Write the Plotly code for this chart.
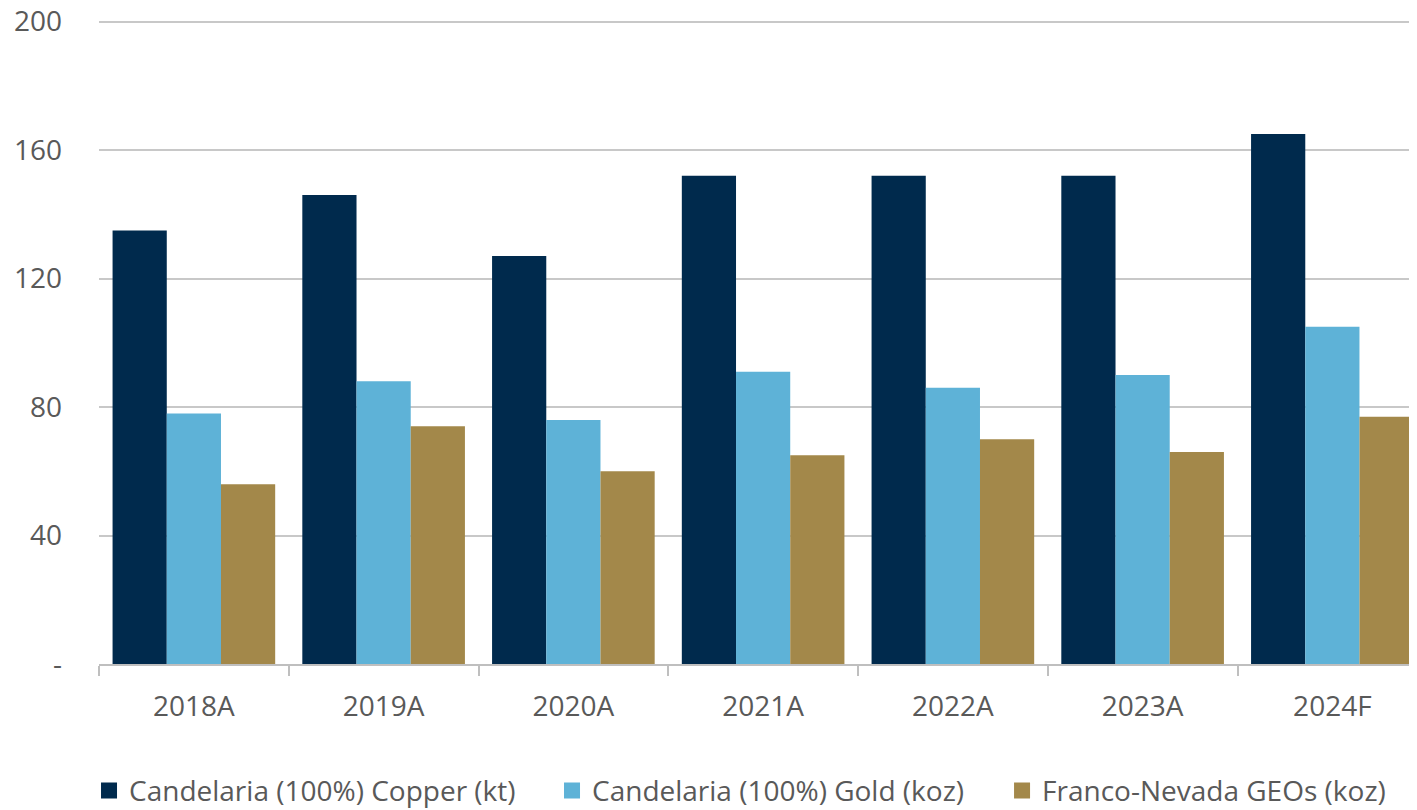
import plotly.graph_objects as go

categories = ["2018A", "2019A", "2020A", "2021A", "2022A", "2023A", "2024F"]
copper_kt = [135, 146, 127, 152, 152, 152, 165]
gold_koz = [78, 88, 76, 91, 86, 90, 105]
geos_koz = [56, 74, 60, 65, 70, 66, 77]

series_names = [
    "Candelaria (100%) Copper (kt)",
    "Candelaria (100%) Gold (koz)",
    "Franco-Nevada GEOs (koz)",
]
series_colors = ["#002A4D", "#5EB2D7", "#A3884A"]
y_tickvals = [0, 40, 80, 120, 160, 200]
y_ticktext = ["-", "40", "80", "120", "160", "200"]

FONT = "Open Sans"
TXT = "#595959"

fig = go.Figure()
for name, vals, col in zip(series_names, [copper_kt, gold_koz, geos_koz], series_colors):
    fig.add_trace(go.Bar(x=categories, y=vals, name=name, marker=dict(color=col, line=dict(width=0)),
                         showlegend=False))
legend_ids = ["legend", "legend2", "legend3"]
for name, col, lg in zip(series_names, series_colors, legend_ids):
    fig.add_trace(go.Scatter(x=[None], y=[None], mode="markers", name=name, legend=lg,
                             marker=dict(symbol="square", size=16, color=col, line=dict(width=0))))

legend_x = [0.0575, 0.3861, 0.7055]
common_legend = dict(orientation="h", xref="container", yref="container",
                     y=0.024, xanchor="left", yanchor="middle",
                     font=dict(family=FONT, size=28, color=TXT),
                     itemwidth=30, bgcolor="rgba(0,0,0,0)")

fig.update_layout(
    width=1409, height=802,
    margin=dict(l=91, r=0, t=12, b=146, autoexpand=False),
    paper_bgcolor="white", plot_bgcolor="white",
    barmode="group", bargap=0.143, bargroupgap=0,
    font=dict(family=FONT, size=28, color=TXT),
    legend=dict(x=legend_x[0], **common_legend),
    legend2=dict(x=legend_x[1], **common_legend),
    legend3=dict(x=legend_x[2], **common_legend),
)
fig.update_xaxes(
    type="category", range=[-0.5, 6.446], automargin=False,
    showline=True, linecolor="#BFBFBF", linewidth=2,
    ticks="outside", tickson="boundaries", ticklen=10, tickcolor="#BFBFBF", tickwidth=2,
    showgrid=False, tickfont=dict(family=FONT, size=28, color=TXT),
    ticklabelstandoff=16,
)
fig.update_yaxes(
    range=[0, 200.5], tickvals=y_tickvals, ticktext=y_ticktext, automargin=False,
    showgrid=True, gridcolor="#C8C8C8", gridwidth=1.5,
    zeroline=False, showline=False, ticks="",
    tickfont=dict(family=FONT, size=28, color=TXT),
    ticklabelstandoff=36, ticklabeloverflow="allow",
)

fig.write_html("out.html")
